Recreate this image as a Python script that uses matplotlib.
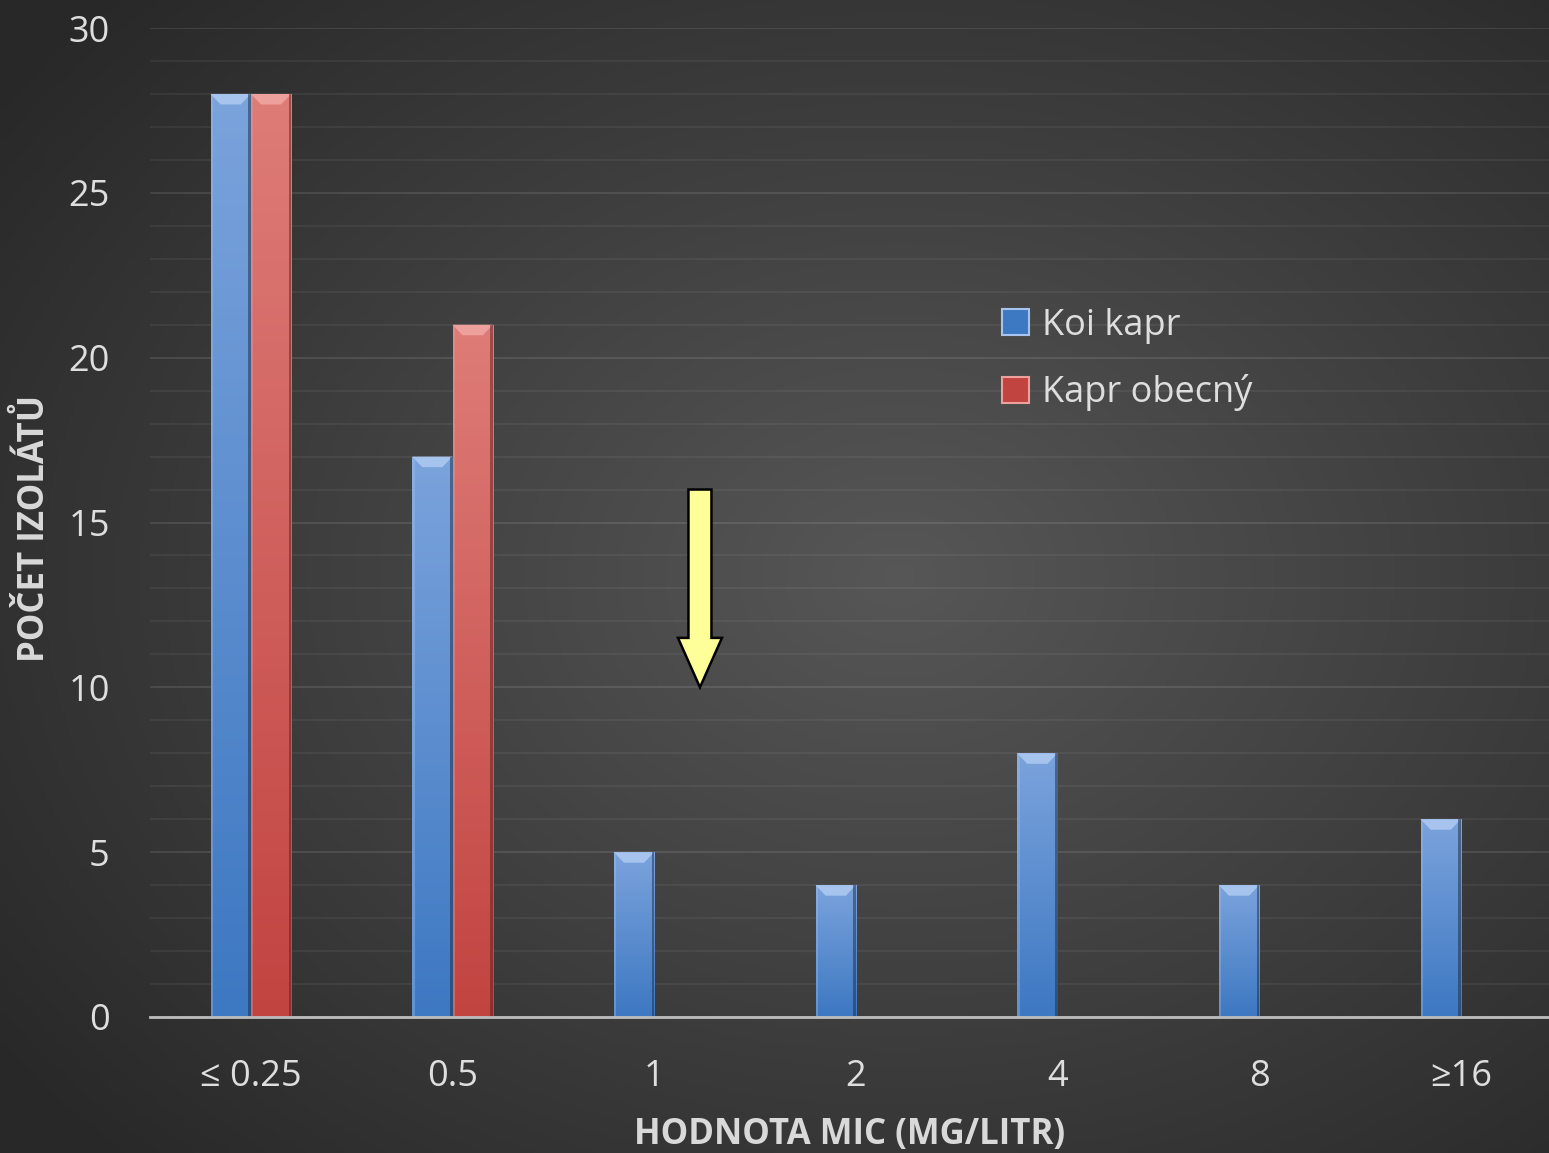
import numpy as np
import matplotlib.pyplot as plt
from matplotlib.patches import Polygon, FancyArrow, Patch

plt.rcParams['font.family'] = ['Open Sans', 'DejaVu Sans']

# MIC classes and isolate counts
mic_labels = ['≤ 0.25', '0.5', '1', '2', '4', '8', '≥16']
koi_kapr = [28, 17, 5, 4, 8, 4, 6]
kapr_obecny = [28, 21, 0, 0, 0, 0, 0]

series = [
    ('Koi kapr', koi_kapr, '#7ba3dc', '#3d78c2', '#a6c4ee'),
    ('Kapr obecný', kapr_obecny, '#de7c78', '#c24441', '#eea19c'),
]

fig = plt.figure(figsize=(15.49, 11.53), dpi=100)

# dark radial background
bg = fig.add_axes([0, 0, 1, 1], zorder=-10)
gx, gy = np.meshgrid(np.linspace(0, 1, 400), np.linspace(0, 1, 300))
r = np.sqrt(((gx - 0.58) / 0.75) ** 2 + ((gy - 0.5) / 0.75) ** 2)
shade = np.clip(0.34 - 0.19 * r, 0.16, 0.34)
bg.imshow(np.dstack([shade] * 3), extent=[0, 1, 0, 1], aspect='auto', origin='lower')
bg.axis('off')

ax = fig.add_axes([150 / 1549, 136 / 1153, 1 - 150 / 1549, (1017 - 28) / 1153])
ax.patch.set_alpha(0)

x = np.arange(len(mic_labels))
w = 0.2


def bevel_bar(ax, xc, h, top, bottom, light):
    if h <= 0:
        return
    x0, x1 = xc - w / 2, xc + w / 2
    bar = ax.bar(xc, h, w, color='none', zorder=3)[0]
    grad = np.linspace(0, 1, 100)[:, None]
    c0 = np.array(plt.matplotlib.colors.to_rgb(bottom))
    c1 = np.array(plt.matplotlib.colors.to_rgb(top))
    img = c0 + (c1 - c0) * grad[..., None]
    im = ax.imshow(img, extent=[x0, x1, 0, h], origin='lower', aspect='auto', zorder=3)
    im.set_clip_path(bar)
    bx, by = 0.05, 0.32
    ax.add_patch(Polygon([(x0, h), (x1, h), (x1 - bx, h - by), (x0 + bx, h - by)],
                         closed=True, color=light, lw=0, zorder=4))
    ax.add_patch(Polygon([(x1, h), (x1, 0), (x1 - 0.012, 0), (x1 - 0.012, h)],
                         closed=True, color='#1c2a40' if top.startswith('#7') else '#5a2020',
                         alpha=0.5, lw=0, zorder=4))
    ax.add_patch(Polygon([(x0, h), (x0, 0), (x0 + 0.012, 0), (x0 + 0.012, h)],
                         closed=True, color=light, alpha=0.35, lw=0, zorder=4))


for i, (name, vals, top, bottom, light) in enumerate(series):
    for xi, v in zip(x, vals):
        bevel_bar(ax, xi - w / 2 + i * w, v, top, bottom, light)

ax.set_xlim(-0.5, 6.437)
ax.set_ylim(0, 30)
ax.set_yticks(range(0, 31, 5))
ax.set_yticks(range(0, 31), minor=True)
ax.set_xticks(x)
ax.set_xticklabels(mic_labels)
ax.grid(axis='y', which='minor', color='white', alpha=0.06, lw=1.3, zorder=0)
ax.grid(axis='y', which='major', color='white', alpha=0.1, lw=1.5, zorder=0)
for s in ['top', 'right', 'left']:
    ax.spines[s].set_visible(False)
ax.spines['bottom'].set_color('#bdbdbd')
ax.spines['bottom'].set_linewidth(2)
ax.spines['bottom'].set_zorder(5)
ax.tick_params(axis='both', which='both', length=0, colors='#dedede', labelsize=26)
ax.tick_params(axis='x', pad=30)
ax.tick_params(axis='y', pad=29)

ax.set_xlabel('HODNOTA MIC (MG/LITR)', fontsize=25, fontweight='bold', color='#d9d9d9', labelpad=16)
fig.text(35 / 1549, 1 - 528 / 1153, 'POČET IZOLÁTŮ', rotation=90, fontsize=25,
         fontweight='bold', color='#d9d9d9', ha='center', va='center')

# arrow marking the breakpoint
ax.add_patch(FancyArrow(2.227, 16, 0, -6, width=0.114, head_width=0.218, head_length=1.5,
                        length_includes_head=True, facecolor='#ffff99', edgecolor='black',
                        lw=1.8, zorder=6))

handles = [Patch(facecolor=s[3], edgecolor=s[4], lw=1.5) for s in series]
leg = ax.legend(handles, [s[0] for s in series], loc='upper left',
                bbox_to_anchor=(0.586, 0.75), frameon=False, fontsize=26,
                handlelength=0.75, handleheight=0.75, handletextpad=0.35, labelspacing=0.85)
for t in leg.get_texts():
    t.set_color('#dedede')

fig.savefig('out.png', dpi=100)
